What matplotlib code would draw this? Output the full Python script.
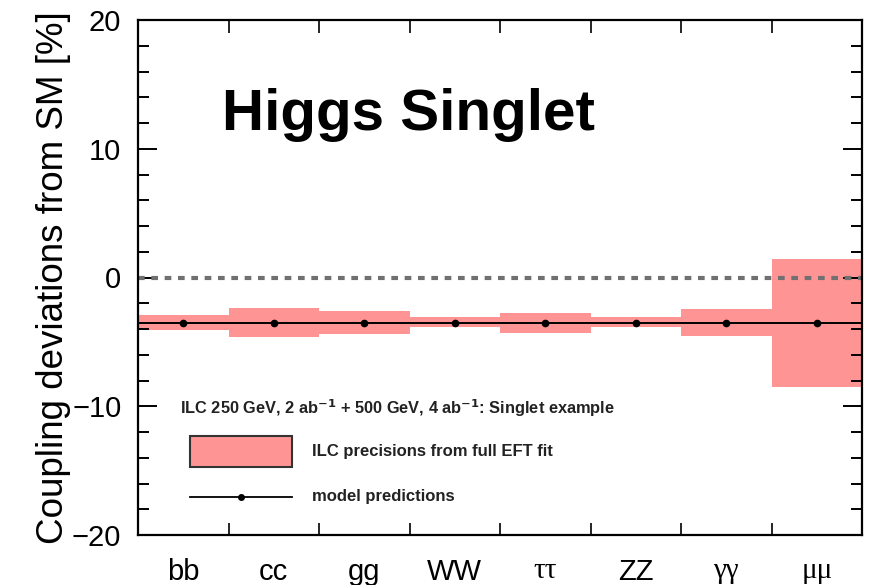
import matplotlib
matplotlib.use('Agg')
import matplotlib.pyplot as plt
from matplotlib.patches import Rectangle
from matplotlib.lines import Line2D
from matplotlib.ticker import MultipleLocator
import numpy as np

DPI = 100

channels  = ['bb', 'cc', 'gg', 'WW', 'ττ', 'ZZ', 'γγ', 'μμ']
greek     = [False, False, False, False, True, False, True, True]
band_low  = [-4.08, -4.65, -4.41, -3.87, -4.29, -3.82, -4.52, -8.50]
band_high = [-2.91, -2.35, -2.58, -3.09, -2.73, -3.09, -2.45, 1.45]
model     = [-3.5, -3.5, -3.5, -3.5, -3.5, -3.5, -3.5, -3.5]

BAND = '#ff9494'

plt.rcParams['font.family'] = ['Liberation Sans', 'DejaVu Sans']

fig = plt.figure(figsize=(871/DPI, 585/DPI), dpi=DPI)
ax = fig.add_axes([138/871, 50/585, 724/871, 515/585])

x = np.arange(len(channels))
low = np.array(band_low)
high = np.array(band_high)
ax.bar(x, high - low, bottom=low, width=1.0, color=BAND, linewidth=0, zorder=1)

# SM reference
ax.axhline(0, color='#707070', lw=3.0, ls=(0, (1.6, 1.6)), zorder=2)

# model predictions
ax.plot([-0.5, 7.5], [model[0], model[-1]], color='black', lw=1.4, zorder=3)
ax.plot(x, model, 'o', color='black', ms=4.5, zorder=4)

ax.set_xlim(-0.5, 7.5)
ax.set_ylim(-20, 20)

ax.yaxis.set_major_locator(MultipleLocator(10))
ax.yaxis.set_minor_locator(MultipleLocator(2))
ax.set_xticks(np.arange(0.5, 7.5, 1.0))
ax.set_xticklabels([])
ax.tick_params(axis='y', which='major', direction='in', length=14, width=1.4,
               right=True, labelsize=21, pad=12)
ax.tick_params(axis='y', which='minor', direction='in', length=8, width=1.4, right=True)
ax.tick_params(axis='x', which='major', direction='in', length=9, width=1.2, top=True)
for s in ax.spines.values():
    s.set_linewidth(1.6)

ax.set_ylabel('Coupling deviations from SM [%]', fontsize=26.5, labelpad=1)

# channel labels under the bins
trans = ax.get_xaxis_transform()
for xi, lab, g in zip(x, channels, greek):
    if g:
        ax.text(xi, -0.083, lab, transform=trans, ha='center', va='baseline',
                fontsize=21, family=['Liberation Serif', 'DejaVu Serif'])
    else:
        ax.text(xi, -0.088, lab, transform=trans, ha='center', va='baseline', fontsize=21)

ax.text(0.116, 0.815, 'Higgs Singlet', transform=ax.transAxes, fontsize=42,
        fontweight='bold', va='center', ha='left')

# legend
ax.text(0.058, 0.247, 'ILC 250 GeV, 2 ab$^{\\mathbf{-1}}$ + 500 GeV, 4 ab$^{\\mathbf{-1}}$: Singlet example',
        transform=ax.transAxes, fontsize=11.8, fontweight='bold', va='center', ha='left', color='#222222')
ax.add_patch(Rectangle((0.0718, 0.132), 0.141, 0.060, transform=ax.transAxes,
                       facecolor=BAND, edgecolor='#333333', lw=1.5, zorder=5))
ax.text(0.240, 0.163, 'ILC precisions from full EFT fit', transform=ax.transAxes,
        fontsize=12, fontweight='bold', va='center', ha='left', color='#222222')
ax.add_line(Line2D([0.0718, 0.2127], [0.0738, 0.0738], transform=ax.transAxes,
                   color='black', lw=1.3, zorder=5))
ax.add_line(Line2D([0.1423], [0.0738], transform=ax.transAxes, marker='o', ms=4,
                   color='black', zorder=5))
ax.text(0.240, 0.0738, 'model predictions', transform=ax.transAxes,
        fontsize=12, fontweight='bold', va='center', ha='left', color='#222222')

fig.savefig('out.png', dpi=DPI)
